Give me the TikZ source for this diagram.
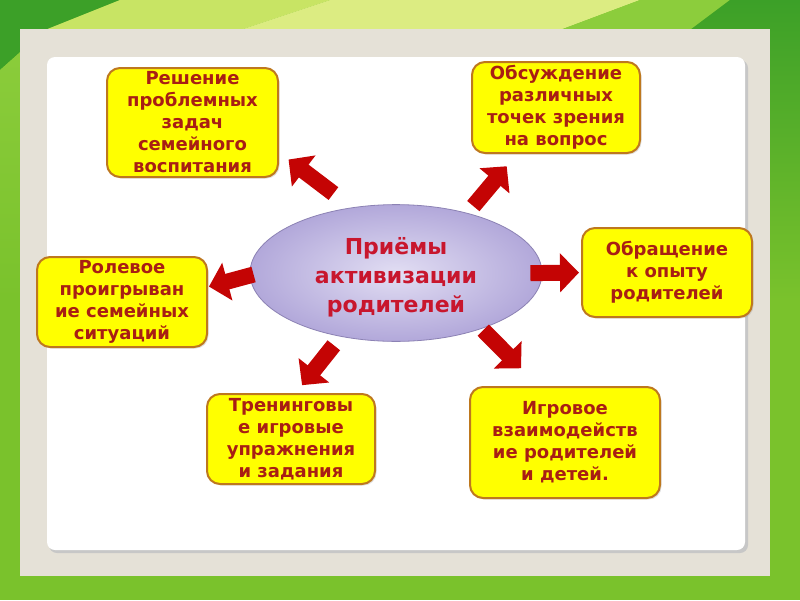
\documentclass[tikz,border=0pt]{standalone}
\usepackage{fontspec}
\setmainfont{DejaVu Sans}
\usetikzlibrary{shapes.geometric,arrows.meta,shadows}

\definecolor{bggreen}{RGB}{122,194,44}
\definecolor{darkgreen}{RGB}{60,160,40}
\definecolor{midgreen}{RGB}{140,205,60}
\definecolor{lightgreen}{RGB}{200,228,100}
\definecolor{palegreen}{RGB}{220,236,130}
\definecolor{panelbeige}{RGB}{229,225,215}
\definecolor{boxfill}{RGB}{255,255,0}
\definecolor{boxedge}{RGB}{190,120,30}
\definecolor{boxtext}{RGB}{168,30,20}
\definecolor{titletext}{RGB}{200,22,45}
\definecolor{arrowred}{RGB}{196,4,4}
\definecolor{ovalin}{RGB}{226,222,243}
\definecolor{ovalout}{RGB}{178,168,218}
\definecolor{ovaledge}{RGB}{140,130,180}

\tikzset{
  idea/.style={draw=boxedge, fill=boxfill, line width=2pt, rounded corners=13pt,
    align=center, text=boxtext, inner sep=0pt,
    font=\fontsize{18}{22}\selectfont\bfseries,
    drop shadow={opacity=0.25, shadow xshift=1.5pt, shadow yshift=-1.5pt}},
  push/.style={draw=arrowred, line width=16pt, -{Triangle[length=19pt,width=38pt]}},
}

\begin{document}
\begin{tikzpicture}[x=1pt,y=-1pt]
    \useasboundingbox (0,0) rectangle (800,600);
    % Background
    \fill[bggreen] (0,0) rectangle (800,600);
    \fill[darkgreen] (0,0) -- (120,0) -- (45,30) -- (0,70) -- cycle;
    \fill[lightgreen] (120,0) -- (330,0) -- (240,30) -- (45,30) -- cycle;
    \fill[palegreen] (330,0) -- (640,0) -- (560,30) -- (240,30) -- cycle;
    \fill[midgreen] (640,0) -- (730,0) -- (690,30) -- (560,30) -- cycle;
    \shade[top color=darkgreen, bottom color=bggreen] (730,0) -- (800,0) -- (800,300) -- (770,300) -- (770,30) -- (690,30) -- cycle;
    \shade[top color=midgreen, bottom color=bggreen] (0,70) -- (45,30) -- (20,30) -- (20,300) -- (0,300) -- cycle;
    \fill[panelbeige] (20,29) rectangle (770,576);
    \fill[black!22, rounded corners=8pt] (49,60) rectangle (748,553);
    \fill[white, rounded corners=8pt] (47,57) rectangle (745,550);
    % Nodes
    \node[ellipse, draw=ovaledge, line width=0.8pt, inner color=ovalin, outer color=ovalout,
      minimum width=292pt, minimum height=136pt, inner sep=0pt,
      text=titletext, font=\fontsize{22}{29}\selectfont\bfseries] (ctr) at (396,273)
      {\begin{tabular}{@{}c@{}}\rule{0pt}{30pt}Приёмы\\активизации\\родителей\end{tabular}};
    \node[idea, minimum width=171pt, minimum height=109pt] (b1) at (192.5,122.5)
      {Решение\\проблемных\\задач\\семейного\\воспитания};
    \node[idea, minimum width=168pt, minimum height=91pt] (b2) at (556,107.5)
      {Обсуждение\\различных\\точек зрения\\на вопрос};
    \node[idea, minimum width=170pt, minimum height=89pt] (b3) at (667,272.5)
      {Обращение\\к опыту\\родителей};
    \node[idea, minimum width=170pt, minimum height=90pt] (b4) at (122,302)
      {Ролевое\\проигрыван\\ие семейных\\ситуаций};
    \node[idea, minimum width=168pt, minimum height=90pt] (b5) at (291,439)
      {Тренинговы\\е игровые\\упражнения\\и задания};
    \node[idea, minimum width=190pt, minimum height=111pt] (b6) at (565,442.5)
      {Игровое\\взаимодейств\\ие родителей\\и детей.};
    % Edges
    \draw[push, shorten <=23pt, shorten >=12pt] (ctr.124) -- (b1.-19);
    \draw[push, shorten <=9pt, shorten >=16pt] (ctr.40) -- (b2.230);
    \draw[push, shorten <=-12pt, shorten >=2pt] (ctr.0) -- (b3.180);
    \draw[push, shorten <=-4pt, shorten >=1pt] (ctr.181) -- (b4.10);
    \draw[push, shorten <=11pt, shorten >=10pt] (ctr.229) -- (b5.84);
    \draw[push, shorten <=2pt, shorten >=25pt] (ctr.-33) -- (b6.115);
\end{tikzpicture}
\end{document}
